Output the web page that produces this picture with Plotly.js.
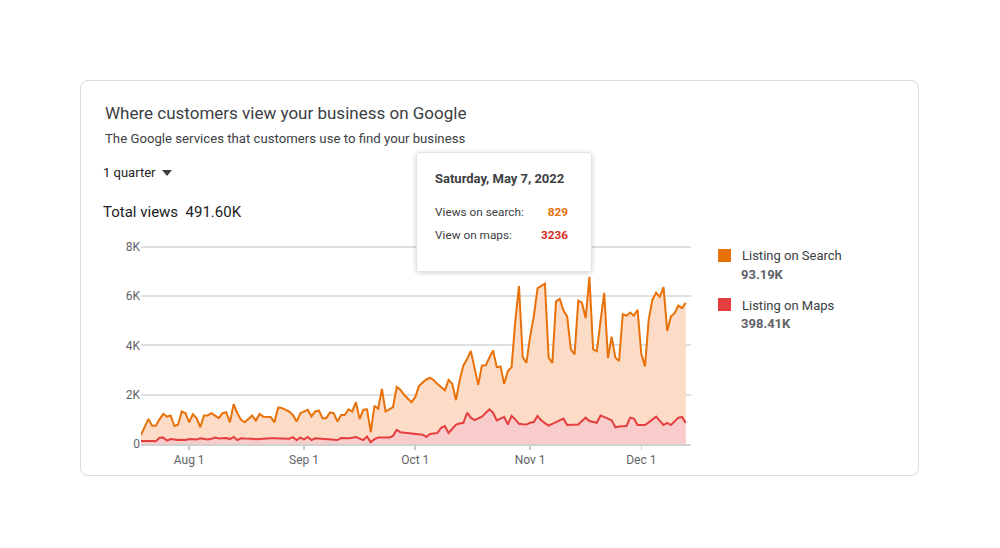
<!DOCTYPE html>
<html>
<head>
<meta charset="utf-8">
<script src="https://cdn.plot.ly/plotly-3.0.1.min.js"></script>
<style>
html,body{margin:0;padding:0;background:#fff;}
#wrap{position:relative;width:1000px;height:548px;overflow:hidden;font-family:Roboto,"Open Sans",Arial,sans-serif;}
#card{position:absolute;left:80px;top:80px;width:839px;height:396px;border:1px solid #dadce0;border-radius:8px;box-sizing:border-box;background:#fff;z-index:0;}
#chart{position:absolute;left:0;top:0;width:1000px;height:548px;z-index:1;}
.t{position:absolute;white-space:nowrap;z-index:2;}
#tip{position:absolute;left:416px;top:152px;width:176px;height:120px;box-sizing:border-box;background:#fff;border:1px solid #e3e3e3;border-radius:3px;box-shadow:0 1px 5px rgba(0,0,0,0.18);z-index:3;}
#tip .t{z-index:4;}
.sq{position:absolute;width:13px;height:13px;z-index:2;}
</style>
</head>
<body>
<div id="wrap">
  <div id="card"></div>
  <div id="chart"></div>
  <div class="t" id="title" style="left:105px;top:103px;font-size:17px;line-height:20px;color:#3c4043;"></div>
  <div class="t" id="subtitle" style="left:105px;top:131px;font-size:13.2px;line-height:16px;color:#3c4043;"></div>
  <div class="t" id="period" style="left:103px;top:165px;font-size:13px;line-height:16px;color:#202124;"></div>
  <div class="t" id="arrow" style="left:162px;top:170px;width:0;height:0;border-left:5px solid transparent;border-right:5px solid transparent;border-top:6px solid #3c4043;"></div>
  <div class="t" id="total" style="left:103px;top:203px;font-size:15px;line-height:18px;color:#202124;"></div>
  <div class="sq" style="left:718px;top:249px;background:#e8710a;"></div>
  <div class="t" id="leg1" style="left:742px;top:248px;font-size:13px;line-height:16px;color:#3c4043;"></div>
  <div class="t" id="leg1v" style="left:741px;top:267px;font-size:13px;line-height:16px;color:#5f6368;font-weight:bold;"></div>
  <div class="sq" style="left:718px;top:298px;background:#e53e3e;"></div>
  <div class="t" id="leg2" style="left:742px;top:298px;font-size:13px;line-height:16px;color:#3c4043;"></div>
  <div class="t" id="leg2v" style="left:741px;top:316px;font-size:13px;line-height:16px;color:#5f6368;font-weight:bold;"></div>
  <div id="tip">
    <div class="t" id="tipDate" style="left:18px;top:18px;font-size:13px;line-height:16px;color:#3c4043;font-weight:bold;"></div>
    <div class="t" id="tipL1" style="left:18px;top:52px;font-size:11.8px;line-height:14px;color:#3c4043;"></div>
    <div class="t" id="tipV1" style="right:23px;top:52px;font-size:11.8px;line-height:14px;color:#e8710a;font-weight:bold;"></div>
    <div class="t" id="tipL2" style="left:18px;top:75px;font-size:11.8px;line-height:14px;color:#3c4043;"></div>
    <div class="t" id="tipV2" style="right:23px;top:75px;font-size:11.8px;line-height:14px;color:#d93025;font-weight:bold;"></div>
  </div>
</div>
<script>
// ---------------- data ----------------
const startDate = '2022-07-19';
const searchViews = [
  370,700,1020,740,740,1000,1220,1110,1160,730,
  780,1320,1250,880,1210,1050,680,1160,1160,1250,
  1150,1050,1250,1290,880,1620,1250,980,880,1020,
  1160,950,1220,1110,1110,1100,880,1480,1460,1400,
  1320,1180,910,1250,1320,1390,1120,1320,1360,1050,
  1050,1280,1250,910,1180,1180,1410,1320,1700,1010,
  1390,1410,480,1550,1430,2240,1320,1410,1500,2310,
  2200,2000,1850,1700,1900,2350,2500,2620,2690,2590,
  2440,2320,2180,2600,2440,1780,2600,3190,3450,3780,
  3100,2400,3190,3190,3500,3800,3120,3150,2440,2960,
  3120,4980,6410,3530,3290,4360,5180,6320,6420,6510,
  3510,3290,5790,5890,5420,5180,3840,3640,5820,5730,
  5110,6790,3840,3770,4990,6140,3490,4360,3510,3370,
  5270,5210,5340,5210,5450,3670,3150,5040,5860,6140,
  5970,6370,4590,5180,5310,5620,5520,5730
];
const mapsViews = [
  120,130,130,120,110,250,260,140,200,170,
  160,170,160,200,175,180,230,190,180,210,
  260,220,230,240,200,285,160,230,220,230,
  210,190,200,230,245,230,230,230,225,230,
  215,280,160,260,190,285,160,230,220,200,
  210,200,200,160,245,230,230,250,285,220,
  160,300,70,200,260,260,270,260,330,570,
  480,460,430,420,400,390,380,290,410,430,
  450,660,730,450,620,790,830,860,1270,1070,
  970,1040,1110,1260,1410,1270,960,1030,1100,790,
  1140,1000,820,800,790,860,890,1140,960,850,
  750,820,900,960,1030,770,770,770,790,930,
  1070,930,900,860,1160,1110,1030,960,680,710,
  720,730,1070,1030,770,770,770,880,990,1110,
  940,770,860,770,920,1070,1100,850
];
const xTickVals = ['2022-08-01','2022-09-01','2022-10-01','2022-11-01','2022-12-01'];
const xTickText = ['Aug 1','Sep 1','Oct 1','Nov 1','Dec 1'];
const yTickVals = [0,2000,4000,6000,8000];
const yTickText = ['0','2K','4K','6K','8K'];
const seriesNames = ['Listing on Search','Listing on Maps'];
const seriesTotals = ['93.19K','398.41K'];
const texts = {
  title: 'Where customers view your business on Google',
  subtitle: 'The Google services that customers use to find your business',
  period: '1 quarter',
  total: 'Total views\u00a0\u00a0491.60K',
  tipDate: 'Saturday, May 7, 2022',
  tipL1: 'Views on search:', tipV1: '829',
  tipL2: 'View on maps:', tipV2: '3236'
};

// dates (daily)
const dates = [];
{
  const d0 = new Date(startDate + 'T00:00:00Z');
  for (let i = 0; i < searchViews.length; i++) {
    const d = new Date(d0.getTime() + i * 86400000);
    dates.push(d.toISOString().slice(0, 10));
  }
}

// texts
for (const k in texts) { const el = document.getElementById(k); if (el) el.textContent = texts[k]; }
document.getElementById('leg1').textContent = seriesNames[0];
document.getElementById('leg2').textContent = seriesNames[1];
document.getElementById('leg1v').textContent = seriesTotals[0];
document.getElementById('leg2v').textContent = seriesTotals[1];

const traces = [
  {
    x: dates, y: searchViews, name: seriesNames[0], type: 'scatter', mode: 'lines',
    fill: 'tozeroy', fillcolor: '#fcdcc6',
    line: {color: '#e8710a', width: 2}, showlegend: false, hoverinfo: 'skip'
  },
  {
    x: dates, y: mapsViews, name: seriesNames[1], type: 'scatter', mode: 'lines',
    fill: 'tozeroy', fillcolor: '#f9cccc',
    line: {color: '#e53e3e', width: 2}, showlegend: false, hoverinfo: 'skip'
  }
];

const yMax = yTickVals[yTickVals.length - 1];

const layout = {
  width: 1000, height: 548,
  margin: {l: 141, r: 309, t: 244, b: 104, pad: 0},
  paper_bgcolor: 'rgba(0,0,0,0)',
  plot_bgcolor: 'rgba(0,0,0,0)',
  font: {family: 'Roboto, "Open Sans", Arial, sans-serif', color: '#5f6368', size: 12},
  xaxis: {
    type: 'date',
    range: ['2022-07-19', '2022-12-14 10:00'],
    tickmode: 'array', tickvals: xTickVals, ticktext: xTickText,
    showgrid: false, zeroline: false,
    showline: true, linecolor: '#d0d0d0', linewidth: 2,
    ticks: 'outside', ticklen: 4, tickwidth: 1.5, tickcolor: '#c8c8c8',
    tickfont: {size: 12, color: '#5f6368'}
  },
  yaxis: {
    range: [0, 8120],
    tickmode: 'array', tickvals: yTickVals, ticktext: yTickText,
    showgrid: true, gridcolor: '#e0e0e0', gridwidth: 2,
    zeroline: false, showline: false, ticks: '',
    tickfont: {size: 12, color: '#5f6368'}
  },
  shapes: [
    {type: 'line', layer: 'below', xref: 'paper', x0: 0, x1: 1, yref: 'y', y0: yMax, y1: yMax,
     line: {color: '#e0e0e0', width: 2}}
  ],
  hovermode: false
};

Plotly.newPlot('chart', traces, layout, {displayModeBar: false, staticPlot: true});
</script>
</body>
</html>
